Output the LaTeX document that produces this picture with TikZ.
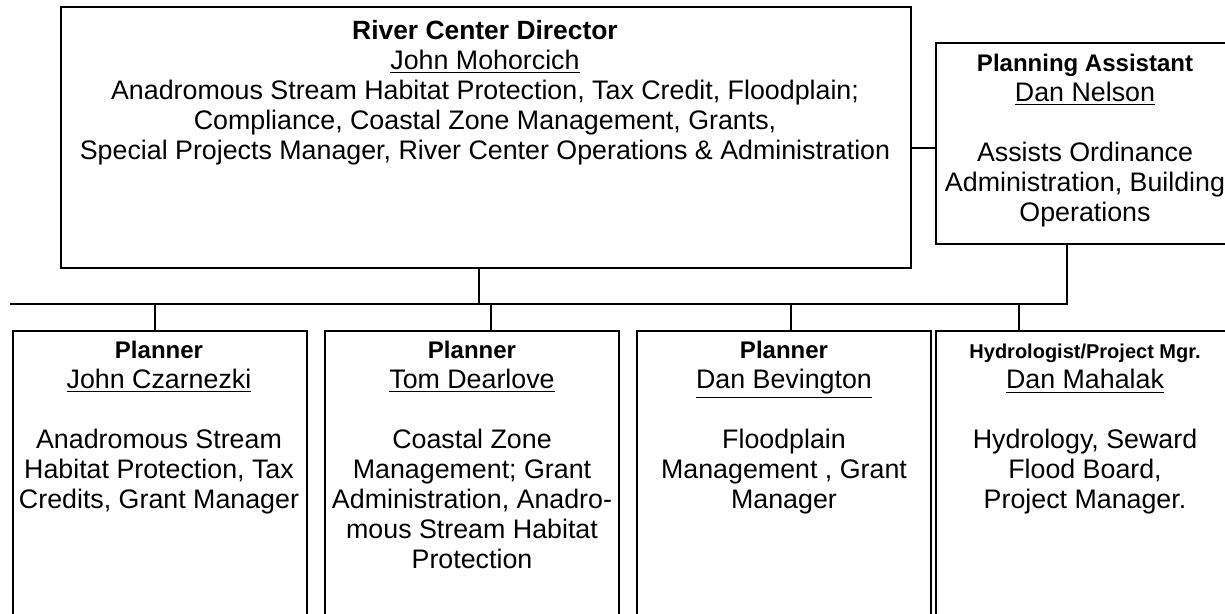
\documentclass[tikz,border=0pt]{standalone}
\usepackage{fontspec}
\setmainfont{Liberation Sans}
\usetikzlibrary{positioning}

\tikzset{
  box/.style={draw, line width=1pt, inner sep=0pt, anchor=north west},
  lbl/.style={anchor=north, inner sep=0pt, align=center,
              font=\fontsize{13.4}{15}\selectfont},
  link/.style={line width=1pt}
}
\newcommand{\ttl}[2][12]{{\fontsize{#1}{15}\selectfont\bfseries #2}}

\begin{document}
\begin{tikzpicture}[x=0.5pt, y=-0.5pt]
        \useasboundingbox (0,0) rectangle (1225,614);
        \clip (0,0) rectangle (1225,614);

        % --- boxes ---
        \node[box, minimum width=425pt, minimum height=130.5pt] (dir) at (60,6) {};
        \node[box, minimum width=149.5pt, minimum height=100.5pt] (asst) at (935,42) {};
        \node[box, minimum width=147pt, minimum height=160pt] (p1) at (12,330) {};
        \node[box, minimum width=147pt, minimum height=160pt] (p2) at (324,330) {};
        \node[box, minimum width=147pt, minimum height=160pt] (p3) at (636,330) {};
        \node[box, minimum width=149.5pt, minimum height=160pt] (p4) at (935,330) {};

        % --- texts ---
        \node[lbl] (dirtxt) at (485,19.5) {\ttl[13.2]{River Center Director}\\
            \underline{John Mohorcich}\\
            Anadromous Stream Habitat Protection, Tax Credit, Floodplain;\\
            Compliance, Coastal Zone Management, Grants,\\
            Special Projects Manager, River Center Operations \& Administration};
        \node[lbl] (assttxt) at (1085,54) {\ttl{Planning Assistant}\\
            \underline{Dan Nelson}\\[15pt]
            Assists Ordinance\\ Administration, Building\\ Operations};
        \node[lbl] (p1txt) at (159,341) {\ttl{Planner}\\
            \underline{John Czarnezki}\\[15pt]
            Anadromous Stream\\ Habitat Protection, Tax\\ Credits, Grant Manager};
        \node[lbl] (p2txt) at (472,341) {\ttl{Planner}\\
            \underline{Tom Dearlove}\\[15pt]
            Coastal Zone\\ Management; Grant\\ Administration, Anadro-\\
            mous Stream Habitat\\ Protection};
        \node[lbl] (p3txt) at (784,341) {\ttl{Planner}\\
            \underline{Dan Bevington}\\[15pt]
            Floodplain\\ Management , Grant\\ Manager};
        \node[lbl] (p4txt) at (1085,344) {\ttl[10]{Hydrologist/Project Mgr.}\\
            \underline{Dan Mahalak}\\[15pt]
            Hydrology, Seward\\ Flood Board,\\ Project Manager.};

        % --- connectors ---
        \coordinate (side) at (922,148);
        \coordinate (busL) at (10,304);
        \coordinate (busR) at (1067,304);
        \draw[link] (dir.east |- side) -- (asst.west |- side);
        \draw[link] (busL) -- (busR) -- (busR |- asst.south);
        \draw[link] (dir.south -| 479,0) -- (busL -| 479,0);
        \foreach \b/\x in {p1/155, p2/491, p3/791, p4/1019} {
            \draw[link] (busL -| \x,0) -- (\b.north -| \x,0);
        }
\end{tikzpicture}
\end{document}
